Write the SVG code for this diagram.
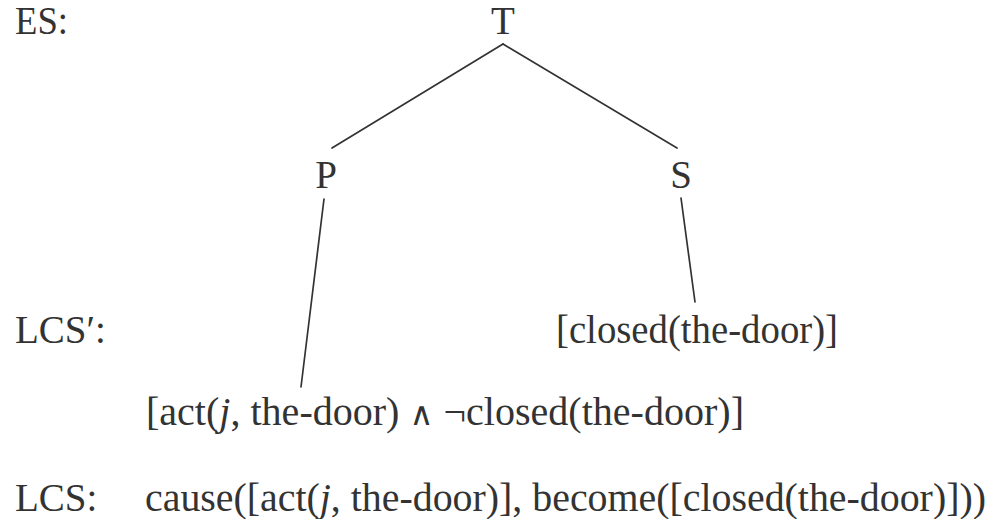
<svg xmlns="http://www.w3.org/2000/svg" width="1000" height="519" viewBox="0 0 1000 519">
<style>
text{font-family:"Liberation Serif","Times New Roman",serif;font-size:39px;fill:#333}
.mid{text-anchor:middle}
.it{font-style:italic}
.op{font-family:"DejaVu Serif","Liberation Serif",serif;font-size:32px;font-weight:normal}
.edge{stroke:#333;stroke-width:1.7;fill:none;stroke-linecap:round}
</style>
<rect width="1000" height="519" fill="#fff"/>
<g id="labels">
<text x="15" y="34" textLength="53" lengthAdjust="spacingAndGlyphs">ES:</text>
<text x="15" y="343">LCS′:</text>
<text x="15" y="511">LCS:</text>
</g>
<g id="connectors">
<line class="edge" x1="503" y1="44" x2="332" y2="148"/>
<line class="edge" x1="503" y1="44" x2="677" y2="148"/>
<line class="edge" x1="324" y1="199" x2="301" y2="387"/>
<line class="edge" x1="681" y1="198" x2="695" y2="302"/>
</g>
<g id="node-T"><text class="mid" x="503" y="34">T</text></g>
<g id="node-P"><text class="mid" x="326" y="188">P</text></g>
<g id="node-S"><text class="mid" x="681" y="188">S</text></g>
<g id="node-closed"><text x="556" y="343" textLength="282" lengthAdjust="spacingAndGlyphs">[closed(the-door)]</text></g>
<g id="node-act"><text x="146" y="425" textLength="598" lengthAdjust="spacingAndGlyphs">[act(<tspan class="it">j</tspan>, the-door) <tspan class="op">∧</tspan> ¬closed(the-door)]</text></g>
<g id="lcs"><text x="145" y="511" textLength="841" lengthAdjust="spacingAndGlyphs">cause([act(<tspan class="it">j</tspan>, the-door)], become([closed(the-door)]))</text></g>
</svg>
